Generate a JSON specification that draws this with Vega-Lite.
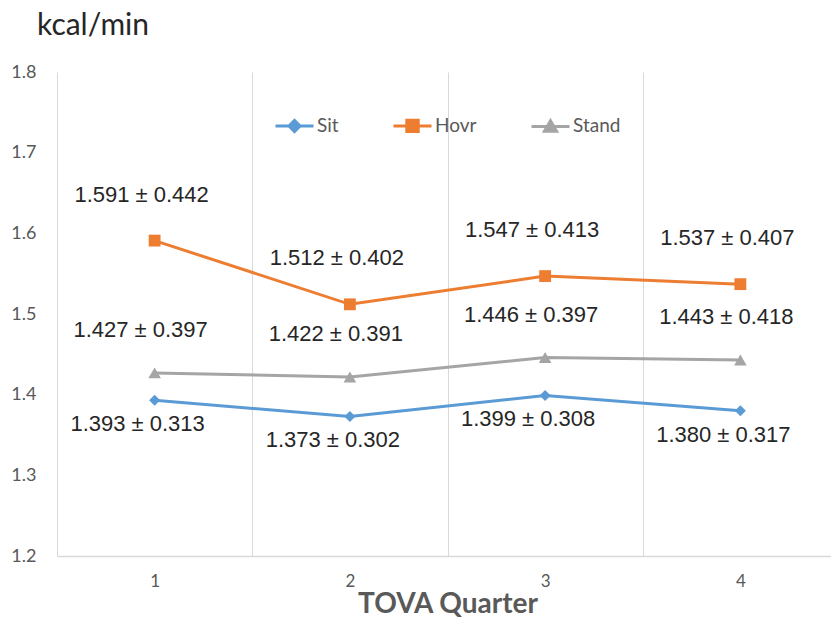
{
  "$schema": "https://vega.github.io/schema/vega-lite/v6.json",
  "width": 774,
  "height": 484,
  "autosize": {"type": "none"},
  "padding": {"left": 57, "top": 72, "right": 0, "bottom": 63},
  "background": "white",
  "config": {"view": {"stroke": null}},
  "title": {"text": "kcal/min", "anchor": "start", "frame": "group", "dx": -20, "offset": -2, "font": "Lato", "fontSize": 30, "fontWeight": "normal", "color": "#262626", "baseline": "alphabetic"},
  "data": {"values": [
    {"quarter": "1", "series": "Sit", "kcal": 1.393, "label": "1.393 ± 0.313"},
    {"quarter": "2", "series": "Sit", "kcal": 1.373, "label": "1.373 ± 0.302"},
    {"quarter": "3", "series": "Sit", "kcal": 1.399, "label": "1.399 ± 0.308"},
    {"quarter": "4", "series": "Sit", "kcal": 1.380, "label": "1.380 ± 0.317"},
    {"quarter": "1", "series": "Hovr", "kcal": 1.591, "label": "1.591 ± 0.442"},
    {"quarter": "2", "series": "Hovr", "kcal": 1.512, "label": "1.512 ± 0.402"},
    {"quarter": "3", "series": "Hovr", "kcal": 1.547, "label": "1.547 ± 0.413"},
    {"quarter": "4", "series": "Hovr", "kcal": 1.537, "label": "1.537 ± 0.407"},
    {"quarter": "1", "series": "Stand", "kcal": 1.427, "label": "1.427 ± 0.397"},
    {"quarter": "2", "series": "Stand", "kcal": 1.422, "label": "1.422 ± 0.391"},
    {"quarter": "3", "series": "Stand", "kcal": 1.446, "label": "1.446 ± 0.397"},
    {"quarter": "4", "series": "Stand", "kcal": 1.443, "label": "1.443 ± 0.418"}
  ]},
  "encoding": {
    "x": {
      "field": "quarter", "type": "ordinal", "bandPosition": 0.5,
      "scale": {"type": "band", "range": [0, 781], "paddingInner": 0, "paddingOuter": 0},
      "axis": {"title": "TOVA Quarter", "labelAngle": 0, "ticks": false, "tickBand": "extent", "grid": true, "gridColor": "#d9d9d9", "gridWidth": 1, "domainColor": "#d9d9d9", "domainWidth": 1.5, "labelFont": "Lato", "labelFontSize": 17, "labelColor": "#595959", "labelPadding": 17, "titleFont": "Lato", "titleFontSize": 28, "titleFontWeight": "bold", "titleColor": "#595959", "titlePadding": 1}
    },
    "y": {
      "field": "kcal", "type": "quantitative",
      "scale": {"domain": [1.2, 1.8], "nice": false, "zero": false},
      "axis": {"title": null, "values": [1.2, 1.3, 1.4, 1.5, 1.6, 1.7, 1.8], "format": ".1f", "grid": false, "domain": false, "ticks": false, "labelPadding": 21, "labelFont": "Lato", "labelFontSize": 18, "labelColor": "#595959"}
    },
    "color": {
      "field": "series", "type": "nominal",
      "scale": {"domain": ["Sit", "Hovr", "Stand"], "range": ["#5b9bd5", "#ed7d31", "#a5a5a5"]},
      "legend": {
        "title": null, "orient": "none", "legendX": 217, "legendY": 33, "direction": "horizontal",
        "symbolSize": 1444, "symbolStrokeWidth": 3, "labelFont": "Lato", "labelFontSize": 19, "labelColor": "#595959",
        "labelOffset": 2, "columnPadding": 48, "padding": 0,
        "encode": {"symbols": {"update": {
          "shape": {"signal": "datum.value === 'Sit' ? 'M-1,0H1M-0.29,0L0,-0.29L0.29,0L0,0.29Z' : (datum.value === 'Hovr' ? 'M-1,0H1M-0.3,-0.3H0.3V0.3H-0.3Z' : 'M-1,0H1M0,-0.3L0.32,0.25H-0.32Z')"},
          "fill": {"scale": "color", "field": "value"},
          "stroke": {"scale": "color", "field": "value"},
          "strokeWidth": {"value": 3},
          "opacity": {"value": 1}
        }}}
      }
    }
  },
  "layer": [
    {
      "mark": {"type": "line", "strokeWidth": 3}
    },
    {
      "transform": [{"filter": "datum.series === 'Sit'"}],
      "mark": {"type": "point", "filled": true, "opacity": 1, "shape": "diamond", "size": 120}
    },
    {
      "transform": [{"filter": "datum.series === 'Hovr'"}],
      "mark": {"type": "point", "filled": true, "opacity": 1, "shape": "square", "size": 140}
    },
    {
      "transform": [{"filter": "datum.series === 'Stand'"}],
      "mark": {"type": "point", "filled": true, "opacity": 1, "shape": "triangle-up", "size": 160}
    },
    {
      "transform": [{"filter": "datum.series === 'Hovr'"}],
      "mark": {"type": "text", "font": "Liberation Sans", "fontSize": 22, "color": "#262626", "dx": -13, "dy": -46, "baseline": "middle"},
      "encoding": {"text": {"field": "label"}, "color": {"value": "#262626"}}
    },
    {
      "transform": [{"filter": "datum.series === 'Stand'"}],
      "mark": {"type": "text", "font": "Liberation Sans", "fontSize": 22, "color": "#262626", "dx": -14, "dy": -43, "baseline": "middle"},
      "encoding": {"text": {"field": "label"}, "color": {"value": "#262626"}}
    },
    {
      "transform": [{"filter": "datum.series === 'Sit'"}],
      "mark": {"type": "text", "font": "Liberation Sans", "fontSize": 22, "color": "#262626", "dx": -17, "dy": 24, "baseline": "middle"},
      "encoding": {"text": {"field": "label"}, "color": {"value": "#262626"}}
    }
  ]
}
